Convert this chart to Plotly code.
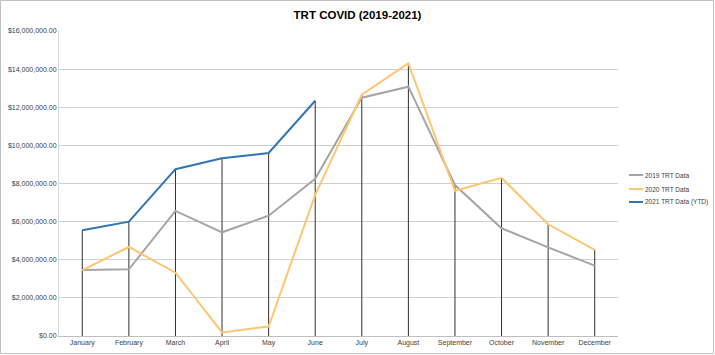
import plotly.graph_objects as go

months = ["January", "February", "March", "April", "May", "June",
          "July", "August", "September", "October", "November", "December"]
trt_2019 = [3.46e6, 3.50e6, 6.56e6, 5.44e6, 6.31e6, 8.25e6,
            12.50e6, 13.08e6, 7.92e6, 5.65e6, 4.65e6, 3.69e6]
trt_2020 = [3.46e6, 4.67e6, 3.32e6, 0.19e6, 0.50e6, 7.40e6,
            12.66e6, 14.31e6, 7.62e6, 8.30e6, 5.86e6, 4.52e6]
trt_2021 = [5.55e6, 6.00e6, 8.75e6, 9.32e6, 9.60e6, 12.34e6,
            None, None, None, None, None, None]
series_names = ["2019 TRT Data", "2020 TRT Data", "2021 TRT Data (YTD)"]
colors = ["#A5A5A5", "#FFC66E", "#3474B4"]

W, H = 715, 355
L, R, T, B = 59, 97, 31, 19
pw, ph = W - L - R, H - T - B


def px_x(px):
    return (px - L) / pw


def px_y(py):
    return (H - B - py) / ph


fig = go.Figure()

# drop lines (from highest value of each category down to the axis)
dx, dy = [], []
for i, m in enumerate(months):
    vals = [v for v in (trt_2019[i], trt_2020[i], trt_2021[i]) if v is not None]
    top = max(vals)
    dx += [m, m, None]
    dy += [0, top, None]
fig.add_trace(go.Scatter(x=dx, y=dy, mode="lines", showlegend=False,
                         line=dict(color="#303030", width=1), hoverinfo="skip"))

for name, vals, c in zip(series_names, [trt_2019, trt_2020, trt_2021], colors):
    fig.add_trace(go.Scatter(x=months, y=vals, name=name, mode="lines",
                             showlegend=False, line=dict(color=c, width=2)))

# legend drawn at the right, like the original
shapes = [dict(type="rect", xref="paper", yref="paper",
               x0=px_x(0.5), x1=px_x(W - 1.5), y0=px_y(H - 1.5), y1=px_y(0.5),
               line=dict(color="#BFBFBF", width=1))]
annotations = []
leg_y = [175, 189, 202]
for name, c, yy in zip(series_names, colors, leg_y):
    shapes.append(dict(type="line", xref="paper", yref="paper",
                       x0=px_x(629), x1=px_x(643), y0=px_y(yy), y1=px_y(yy),
                       line=dict(color=c, width=2)))
    annotations.append(dict(text=name, xref="paper", yref="paper",
                            x=px_x(643), y=px_y(yy), xanchor="left", yanchor="middle",
                            showarrow=False, font=dict(size=6.5, color="#404040")))

fig.update_layout(
    width=W, height=H,
    margin=dict(l=L, r=R, t=T, b=B, autoexpand=False),
    paper_bgcolor="white", plot_bgcolor="white",
    font=dict(family="Liberation Sans", color="#595959", size=7),
    title=dict(text="<b>TRT COVID (2019-2021)</b>", x=0.5, xref="container",
               y=1 - 15 / H, yanchor="middle", xanchor="center",
               font=dict(size=11.5, color="#000000", family="Liberation Sans")),
    showlegend=False,
    xaxis=dict(type="category", range=[-0.5, 11.5], showgrid=False,
               showline=True, linecolor="#BFBFBF", linewidth=1, automargin=False,
               ticks="", tickfont=dict(size=7, color="#404040"), fixedrange=True),
    yaxis=dict(range=[0, 16e6], dtick=2e6, tickformat="$,.2f", automargin=False,
               showgrid=True, gridcolor="#D0D0D0", gridwidth=1,
               showline=True, linecolor="#D9D9D9", zeroline=False,
               ticks="", tickfont=dict(size=7, color="#404040")),
    shapes=shapes,
    annotations=annotations,
)

fig.write_html("out.html", config={"displayModeBar": False},
               post_script="document.body.style.margin='0';document.body.style.overflow='hidden';")
